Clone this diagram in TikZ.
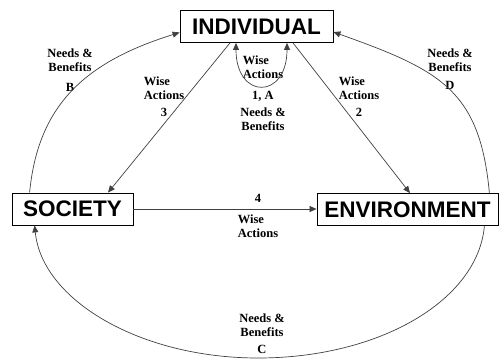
\documentclass[tikz,border=0pt]{standalone}
\usepackage{fontspec}
\setmainfont{Liberation Serif}
\newfontfamily\boxfont{Liberation Sans}
\usetikzlibrary{arrows.meta}
\tikzset{
  >={Triangle[length=7pt,width=6pt]},
  box/.style={draw, line width=0.8pt, inner sep=0pt, minimum height=32pt, font=\boxfont\bfseries\fontsize{22.5}{26}\selectfont},
  lbl/.style={align=center, inner sep=0pt, font=\fontsize{12.5}{14}\selectfont\bfseries},
  link/.style={draw=black!75, line width=0.7pt, ->},
}
\newcommand{\wise}{\rlap{Wise}\phantom{Actions}\\Actions}

\begin{document}
\begin{tikzpicture}[x=1pt,y=-1pt]
  \useasboundingbox (0,0) rectangle (499,360);
  \node[box, minimum width=153pt] (IND) at (256.5,26.5) {INDIVIDUAL};
  \node[box, minimum width=121pt] (SOC) at (72.5,209) {SOCIETY};
  \node[box, minimum width=181pt] (ENV) at (407.5,209.5) {ENVIRONMENT};
  \coordinate (Cb) at (258,358);
  \node[lbl] (LB) at (70,70) {Needs \&\\Benefits\\[6pt]B};
  \node[lbl] (LD) at (450,69) {Needs \&\\Benefits\\[4pt]D};
  \node[lbl] (LC) at (262,334) {Needs \&\\Benefits\\[3pt]C};
  \node[lbl] (L1) at (263,93.5) {\wise\\[7pt]1, A\\[3pt]Needs \&\\Benefits};
  \node[lbl] (L3) at (164,97) {\wise\\[3pt]3};
  \node[lbl] (L2) at (359,97) {\wise\\[3pt]2};
  \node[lbl] (L4) at (258,215.5) {4\\[7pt]\wise};
  \draw[link] ([xshift=18pt]SOC.north west) .. controls (38,105) and (85,62) .. ([yshift=-6pt]IND.west);
  \draw[link] ([xshift=-9pt]ENV.north east) .. controls (480,90) and (440,70) .. ([yshift=-5.5pt]IND.east);
  \draw[link] ([xshift=-14pt]ENV.south east) .. controls (478,300) and (380,358) .. (Cb)
    .. controls (140,358) and (42,300) .. ([xshift=23pt]SOC.south west);
  \draw[link] ([xshift=-26.5pt]IND.south) -- ([xshift=35.5pt]SOC.north);
  \draw[link] ([xshift=36.5pt]IND.south) -- ([xshift=2.5pt]ENV.north);
  \draw[link] (SOC.east) -- (SOC.east -| ENV.west);
  \draw[link, <->] ([xshift=-20.5pt]IND.south) .. controls +(0,57) and +(0,57) .. ([xshift=30.5pt]IND.south);
\end{tikzpicture}
\end{document}
